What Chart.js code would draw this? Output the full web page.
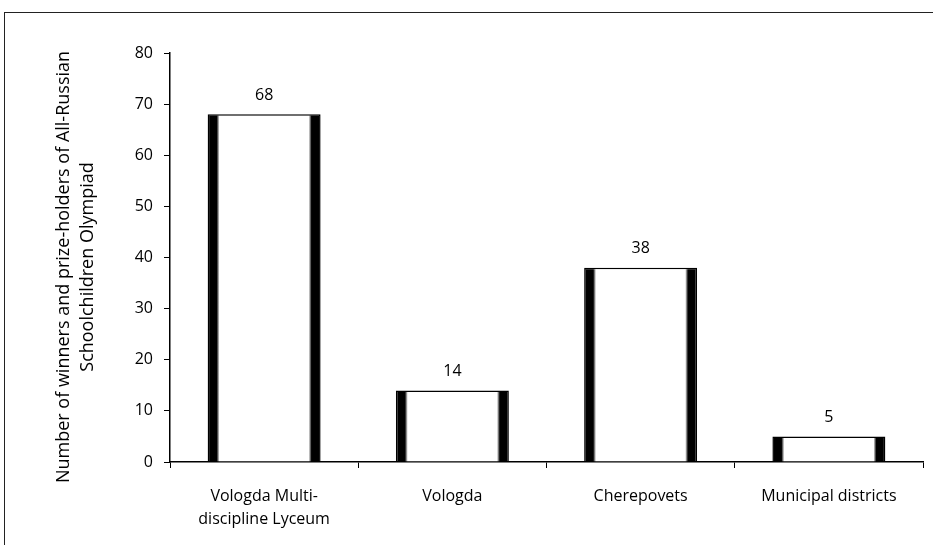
<!DOCTYPE html>
<html>
<head>
<meta charset="utf-8">
<script src="https://cdn.jsdelivr.net/npm/chart.js@4.4.0/dist/chart.umd.min.js"></script>
<style>
  body { margin: 0; background: #fff; }
  #wrap { position: relative; width: 933px; height: 545px; overflow: hidden; }
  #frame { position: absolute; left: 4px; top: 12px; width: 1200px; height: 1200px;
           border-left: 1.5px solid #222; border-top: 1.5px solid #222; }
  canvas { position: absolute; left: 0; top: 0; }
</style>
</head>
<body>
<div id="wrap">
  <div id="frame"></div>
  <canvas id="chart" width="933" height="545"></canvas>
</div>
<script>
const categories = [['Vologda Multi-', 'discipline Lyceum'], 'Vologda', 'Cherepovets', 'Municipal districts'];
const winners = [68, 14, 38, 5];
const yTitle = ['Number of winners and prize-holders of All-Russian', 'Schoolchildren Olympiad'];

const FONT = 'Open Sans';
const barPct = 0.6;

// black edges fading to white centre, like the original gradient fill
function barFill(ctx) {
  const chart = ctx.chart;
  const xs = chart.scales.x;
  if (!chart.chartArea || !xs) return '#fff';
  const cx = xs.getPixelForValue(ctx.dataIndex);
  const w = xs.width / categories.length * barPct;
  const g = chart.ctx.createLinearGradient(cx - w / 2, 0, cx + w / 2, 0);
  g.addColorStop(0, '#000');
  g.addColorStop(0.08, '#000');
  g.addColorStop(0.105, '#fff');
  g.addColorStop(0.895, '#fff');
  g.addColorStop(0.92, '#000');
  g.addColorStop(1, '#000');
  return g;
}

// value labels above the bars
const valueLabels = {
  id: 'valueLabels',
  afterDatasetsDraw(chart) {
    const c = chart.ctx;
    const meta = chart.getDatasetMeta(0);
    c.save();
    c.font = '16px "' + FONT + '"';
    c.fillStyle = '#000';
    c.textAlign = 'center';
    c.textBaseline = 'middle';
    meta.data.forEach((bar, i) => {
      c.fillText(winners[i], bar.x, bar.y - 19);
    });
    c.restore();
  }
};

// rotated two-line axis title
const axisTitle = {
  id: 'axisTitle',
  afterDraw(chart) {
    const c = chart.ctx;
    c.save();
    c.font = '18px "' + FONT + '"';
    c.fillStyle = '#000';
    c.textAlign = 'center';
    c.textBaseline = 'middle';
    c.translate(64, 267);
    c.rotate(-Math.PI / 2);
    yTitle.forEach((line, i) => c.fillText(line, 0, i * 24));
    c.restore();
  }
};

new Chart(document.getElementById('chart'), {
  type: 'bar',
  data: {
    labels: categories,
    datasets: [{
      data: winners,
      backgroundColor: barFill,
      borderColor: '#000',
      borderWidth: { top: 1.5, left: 1.5, right: 1.5, bottom: 0 },
      borderSkipped: false,
      barPercentage: barPct,
      categoryPercentage: 1
    }]
  },
  options: {
    responsive: false,
    animation: false,
    layout: { padding: { left: 51, top: 53, right: 10, bottom: 0 } },
    plugins: { legend: { display: false }, tooltip: { enabled: false } },
    scales: {
      x: {
        grid: { drawOnChartArea: false, tickLength: 6, color: '#000', offset: true },
        border: { color: '#000', width: 1.5 },
        ticks: { color: '#000', padding: 17, maxRotation: 0, font: { family: FONT, size: 16, lineHeight: '23px' } },
        afterFit(s) { s.height = 83; }
      },
      y: {
        min: 0,
        max: 80,
        ticks: { stepSize: 10, color: '#000', padding: 11, font: { family: FONT, size: 16 } },
        grid: { drawOnChartArea: false, tickLength: 6, color: '#000' },
        border: { color: '#000', width: 1.5 },
        afterFit(s) { s.width = 119; }
      }
    }
  },
  plugins: [valueLabels, axisTitle]
});
</script>
</body>
</html>
